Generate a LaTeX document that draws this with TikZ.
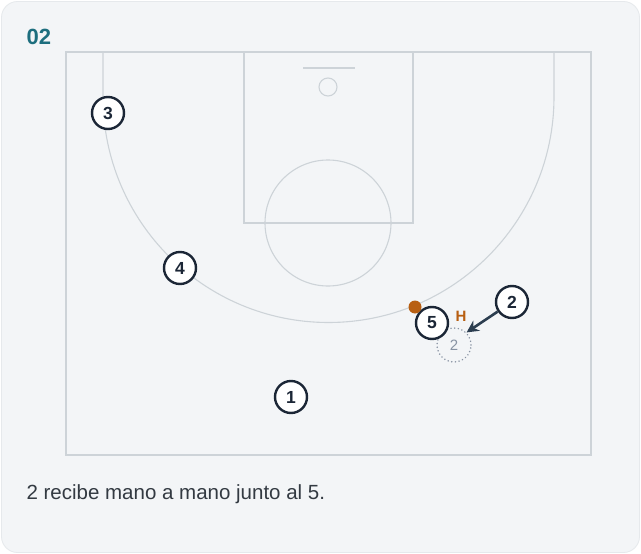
\documentclass[tikz,border=0pt]{standalone}
\usepackage{fontspec}
\setmainfont{Liberation Sans}
\usetikzlibrary{arrows.meta}
\definecolor{cardbg}{HTML}{F3F5F7}
\definecolor{cardline}{HTML}{E6E9EC}
\definecolor{courtline}{HTML}{CDD3D8}
\definecolor{navy}{HTML}{1B2636}
\definecolor{arrowc}{HTML}{2C3E50}
\definecolor{teal}{HTML}{1D6E7E}
\definecolor{orng}{HTML}{B85F12}
\definecolor{ghost}{HTML}{8893A3}
\definecolor{captc}{HTML}{333A42}
\tikzset{
  court/.style={draw=courtline, line width=1.1pt},
  player/.style={circle, draw=navy, line width=2.4pt, fill=white, minimum size=32pt, inner sep=0pt, font=\bfseries\fontsize{17.5}{17.5}\selectfont, text=navy},
  ghostp/.style={circle, draw=ghost, line cap=round, dash pattern=on 0.1pt off 3.6pt, line width=1.6pt, minimum size=34pt, inner sep=0pt, font=\fontsize{15}{15}\selectfont, text=ghost},
  mv/.style={draw=arrowc, line width=2.6pt, -{Stealth[length=12pt,width=12pt]}}
}
\begin{document}
\begin{tikzpicture}[x=1pt,y=-1pt]
\useasboundingbox (0,0) rectangle (641,554);
\fill[white] (0,0) rectangle (641,554);
\draw[cardline, fill=cardbg, line width=0.8pt, rounded corners=16pt] (1.5,1.5) rectangle (639.5,552.5);
% court
\draw[court] (66,52) rectangle (591,455);
\draw[court] (244,52) rectangle (413,223);
\draw[court] (328,223) circle (63);
\draw[court] (328,87) circle (9);
\draw[court] (303,68) -- (355,68);
\draw[court] (103,52) -- (103,97) arc[start angle=180, end angle=0, radius=225.5] -- (554,52);
% title
\node[anchor=west, font=\bfseries\fontsize{22}{22}\selectfont, text=teal] (title) at (23,37) {02};
% players
\node[player] (p3) at (108,113) {3};
\node[player] (p4) at (180,268) {4};
\node[player] (p1) at (291,397) {1};
\node[ghostp] (g2) at (454,345) {2};
\node[player] (p5) at (432,323) {5};
\node[player] (p2) at (512,302) {2};
\fill[orng] (415,307) circle (6.5);
\node[font=\bfseries\fontsize{15}{15}\selectfont, text=orng] (h) at (461,316) {H};
\draw[mv] (p2) -- (g2.45);
% caption
\node[anchor=west, font=\fontsize{20.5}{20.5}\selectfont, text=captc] (cap) at (23,494) {2 recibe mano a mano junto al 5.};
\end{tikzpicture}
\end{document}
